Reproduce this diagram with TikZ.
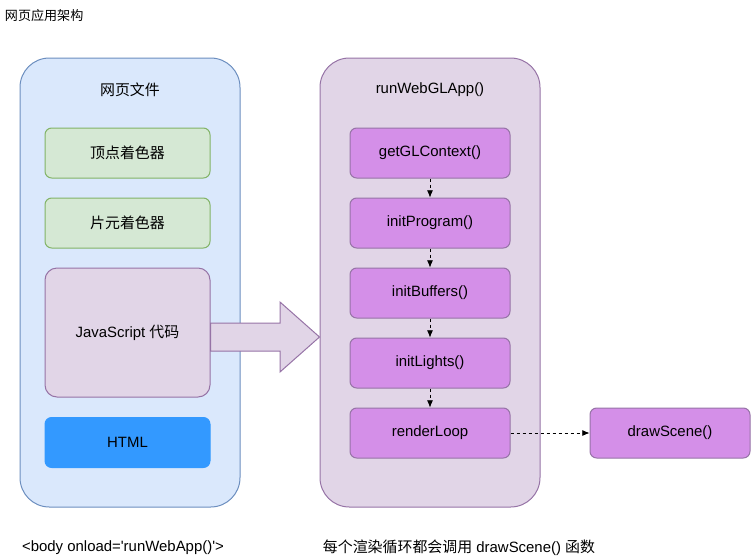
\documentclass[tikz,border=0pt]{standalone}
\usepackage{fontspec}
\setmainfont{Liberation Sans}
\newfontfamily\cjk{Noto Sans CJK SC}
\usepackage{tikz}
\usetikzlibrary{calc, arrows, arrows.meta, positioning}
\definecolor{pagefill}{HTML}{DAE8FC}
\definecolor{pageline}{HTML}{6C8EBF}
\definecolor{shfill}{HTML}{D5E8D4}
\definecolor{shline}{HTML}{82B366}
\definecolor{jsfill}{HTML}{E1D5E7}
\definecolor{jsline}{HTML}{9673A6}
\definecolor{fnfill}{HTML}{D48FE8}
\definecolor{htmlfill}{HTML}{3399FF}
\tikzset{>={Latex[width=1.6mm,length=1.9mm]}}

\begin{document}
\begin{tikzpicture}[x=0.75pt,y=-0.75pt,line width=0.75pt,
	every node/.style={font=\fontsize{11.2}{13}\selectfont},
	panel/.style={draw,rounded corners=22pt,minimum width=165pt,minimum height=336.75pt},
	filebox/.style={draw,rounded corners=5pt,minimum width=123.75pt,minimum height=37.5pt},
	fnbox/.style={draw=jsline,fill=fnfill,rounded corners=5pt,minimum width=120pt,minimum height=37.5pt},
	link/.style={->,dash pattern=on 2.25pt off 2.25pt,line width=0.6pt}]
	\useasboundingbox (0,0) rectangle (751,558);
	\node[anchor=west,font=\fontsize{9.8}{11}\selectfont] (title) at (0,16) {\cjk 网页应用架构};
	% left panel: the web page
	\node[panel,fill=pagefill,draw=pageline] (page) at (130,282.5) {};
	\node (pagelbl) at (130,90) {\cjk 网页文件};
	\node[filebox,fill=shfill,draw=shline] (vs) at (127.5,153) {\cjk 顶点着色器};
	\node[filebox,fill=shfill,draw=shline] (fs) at (127.5,223) {\cjk 片元着色器};
	\node[filebox,fill=jsfill,draw=jsline,minimum height=96.75pt,rounded corners=9pt] (js)
		at (127.5,332.5) {JavaScript {\cjk 代码}};
	\node[filebox,fill=htmlfill,draw=htmlfill] (html) at (127.5,442.5) {HTML};
	% right panel: runWebGLApp
	\node[panel,fill=jsfill,draw=jsline] (app) at (430,282.5) {};
	\node (applbl) at (430,90) {runWebGLApp()};
	\foreach \n/\y/\txt in {f1/153/getGLContext(),f2/223/initProgram(),f3/293/initBuffers(),
			f4/363/initLights(),f5/433/renderLoop}
		\node[fnbox] (\n) at (430,\y) {\txt};
	\node[fnbox] (scene) at (670,433) {drawScene()};
	\foreach \a/\b in {f1/f2,f2/f3,f3/f4,f4/f5,f5/scene}
		\draw[link] (\a) -- (\b);
	% big arrow from the script into the app
	\coordinate (tip) at (app.west |- 0,337);
	\draw[draw=jsline,fill=jsfill] (js.east |- 0,323) -- (280,323) -- (280,302) -- (tip)
		-- (280,372) -- (280,351) -- (js.east |- 0,351) -- cycle;
	\node (onload) at (123,548) {<body onload=\textquotesingle runWebApp()\textquotesingle>};
	\node (loopnote) at (459,548) {{\cjk 每个渲染循环都会调用} drawScene() {\cjk 函数}};
\end{tikzpicture}
\end{document}
